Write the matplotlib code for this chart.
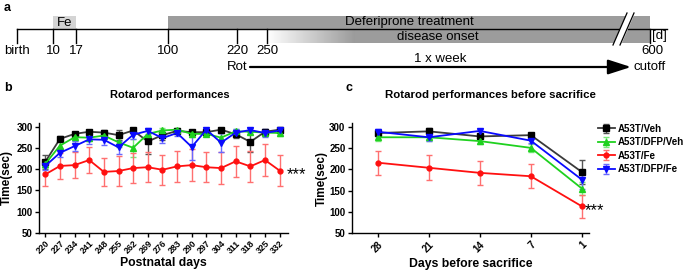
import numpy as np
import matplotlib
matplotlib.use('Agg')
import matplotlib.pyplot as plt
from matplotlib.patches import Rectangle, Polygon

plt.rcParams['font.family'] = ['Liberation Sans', 'DejaVu Sans']

# ---- panel a: timeline (schematic) ----
tl_labels = ['birth', '10', '17', '100', '220', '250', '600']
tl_pos = [17, 53, 76, 168, 237, 267, 650]   # pixel position of each mark on the timeline

# ---- panel b: weekly rotarod, postnatal days ----
days = [220, 227, 234, 241, 248, 255, 262, 269, 276, 283, 290, 297, 304, 311, 318, 325, 332]
veh_b = [218, 272, 284, 289, 287, 281, 292, 266, 281, 291, 288, 288, 294, 283, 265, 289, 294]
veh_b_err = [17, 6, 5, 4, 5, 12, 5, 30, 12, 4, 6, 5, 4, 8, 25, 6, 4]
dfpveh_b = [213, 256, 276, 275, 280, 264, 251, 284, 292, 294, 284, 284, 275, 290, 289, 287, 286]
dfpveh_b_err = [10, 10, 8, 8, 8, 12, 22, 8, 5, 4, 8, 6, 10, 5, 5, 6, 6]
fe_b = [188, 208, 210, 222, 194, 196, 203, 205, 199, 207, 210, 205, 203, 219, 207, 222, 197]
fe_b_err = [28, 30, 30, 31, 34, 35, 35, 36, 36, 36, 37, 36, 37, 36, 37, 37, 37]
dfpfe_b = [208, 239, 255, 271, 270, 252, 282, 291, 274, 286, 253, 294, 263, 287, 293, 286, 292]
dfpfe_b_err = [10, 10, 12, 12, 13, 15, 10, 8, 12, 6, 30, 5, 22, 8, 5, 10, 5]

# ---- panel c: days before sacrifice ----
days_before = ['28', '21', '14', '7', '1']
veh_c = [286, 290, 278, 281, 194]
veh_c_err = [7, 7, 5, 6, 28]
dfpveh_c = [276, 276, 267, 251, 155]
dfpveh_c_err = [9, 8, 8, 9, 15]
fe_c = [216, 204, 192, 184, 113]
fe_c_err = [28, 30, 29, 28, 27]
dfpfe_c = [289, 276, 291, 268, 176]
dfpfe_c_err = [6, 9, 4, 6, 22]

series_names = ['A53T/Veh', 'A53T/DFP/Veh', 'A53T/Fe', 'A53T/DFP/Fe']
colors = ['#000000', '#1fd11f', '#ff1010', '#0a0aff']
line_colors = ['#3a3a3a', '#1fd11f', '#ff1010', '#0a0aff']
err_colors = ['#555555', '#7ae87a', '#ff7070', '#6a6aff']
markers = ['s', '^', 'o', 'v']
msizes = [4.5, 4.5, 3.5, 4.5]

W, H = 685, 270
fig = plt.figure(figsize=(W / 100, H / 100), dpi=100)


def fx(x):
    return x / W


def fy(y):
    return 1 - y / H


# ---------------- panel a ----------------
axa = fig.add_axes([0, 0, 1, 1])
axa.set_xlim(0, W)
axa.set_ylim(H, 0)
axa.axis('off')

fs_a = 9.5
line_y = 29
bar_top = 16
bar_bot = 43
gray = '#9c9c9c'
# Fe box
axa.add_patch(Rectangle((tl_pos[1], bar_top), tl_pos[2] - tl_pos[1], line_y - bar_top,
                        facecolor='#d4d4d4', edgecolor='none', zorder=1))
axa.text((tl_pos[1] + tl_pos[2]) / 2, 22.5, 'Fe', ha='center', va='center', fontsize=fs_a)
# Deferiprone treatment bar
axa.add_patch(Rectangle((tl_pos[3], bar_top), tl_pos[6] - tl_pos[3], line_y - bar_top,
                        facecolor=gray, edgecolor='none', zorder=1))
axa.text(409, 22.5, 'Deferiprone treatment', ha='center', va='center', fontsize=fs_a)
# disease onset bar with gradient
grad_end = 355
grad = np.linspace(1.0, 0.61, 100).reshape(1, -1)
axa.imshow(np.dstack([grad, grad, grad]), extent=(tl_pos[5], grad_end, bar_bot, line_y),
           aspect='auto', zorder=1, interpolation='bilinear')
axa.add_patch(Rectangle((grad_end, line_y), tl_pos[6] - grad_end, bar_bot - line_y,
                        facecolor=gray, edgecolor='none', zorder=1))
axa.text(438, 36.5, 'disease onset', ha='center', va='center', fontsize=fs_a)
axa.set_xlim(0, W)
axa.set_ylim(H, 0)

# timeline and ticks
axa.plot([tl_pos[0], 667], [line_y, line_y], color='black', lw=1.0, zorder=3)
for p, lab in zip(tl_pos, tl_labels):
    axa.plot([p, p], [line_y, bar_bot], color='black', lw=1.0, zorder=3)
    axa.text(p + (2 if lab == '600' else 0), 51.5, lab, ha='center', va='center', fontsize=fs_a)
axa.text(659, 36.5, '[d]', ha='center', va='center', fontsize=fs_a)

# break marks
brk = Polygon([(613, 45), (627, 13), (635, 13), (621, 45)], closed=True,
              facecolor='white', edgecolor='none', zorder=4)
axa.add_patch(brk)
axa.plot([613, 627], [45, 13], color='black', lw=0.9, zorder=5)
axa.plot([620, 634], [45, 13], color='black', lw=0.9, zorder=5)

# rotarod arrow
axa.text(tl_pos[4], 67, 'Rot', ha='center', va='center', fontsize=fs_a)
axa.annotate('', xy=(631, 67), xytext=(250, 67),
             arrowprops=dict(arrowstyle='-|>,head_length=1.4,head_width=0.45',
                             color='black', lw=1.6, shrinkA=0, shrinkB=0))
axa.text(440, 59.5, '1 x week', ha='center', va='center', fontsize=fs_a)
axa.text(650, 67.5, 'cutoff', ha='center', va='center', fontsize=fs_a)
fig.text(fx(4), fy(8), 'a', fontsize=9, fontweight='bold', ha='left', va='center')


def style_axis(ax):
    for s in ['top', 'right']:
        ax.spines[s].set_visible(False)
    for s in ['left', 'bottom']:
        ax.spines[s].set_linewidth(1.0)
    ax.set_ylim(50, 309)
    ax.set_yticks([50, 100, 150, 200, 250, 300])
    ax.tick_params(axis='both', direction='out', length=3, width=1.0, pad=1.5)
    for t in ax.get_yticklabels():
        t.set_fontsize(7)
        t.set_fontweight('bold')


def draw_series(ax, x, ys, errs):
    for y, e, c, lc, ec, m, ms, name in zip(ys, errs, colors, line_colors, err_colors,
                                            markers, msizes, series_names):
        ax.errorbar(x, y, yerr=e, color=lc, ecolor=ec, elinewidth=1.0, capsize=2,
                    capthick=1.0, marker=m, markersize=ms, markerfacecolor=c,
                    markeredgecolor=c, lw=1.3, label=name)


def add_stars(ax, x, y):
    ax.annotate('***', xy=(x, y), xytext=(0, -3), textcoords='offset points',
                fontsize=12, va='center', ha='left', annotation_clip=False)


# ---------------- panel b ----------------
axb = fig.add_axes([fx(39), fy(232.7), fx(288 - 39), (232.7 - 123.3) / H])
draw_series(axb, days, [veh_b, dfpveh_b, fe_b, dfpfe_b],
            [veh_b_err, dfpveh_b_err, fe_b_err, dfpfe_b_err])
style_axis(axb)
axb.set_xlim(217, 336)
axb.set_xticks(days)
axb.set_xticklabels([str(d) for d in days], rotation=45, fontsize=6.3, fontweight='bold',
                    ha='right', va='top', rotation_mode='anchor')
axb.set_xlabel('Postnatal days', fontsize=8.8, fontweight='bold', labelpad=1)
axb.set_ylabel('Time(sec)', fontsize=8.5, fontweight='bold')
axb.yaxis.set_label_coords(-0.105, 0.5)
add_stars(axb, 335.5, fe_b[-1])
fig.text(fx(170), fy(95), 'Rotarod performances', fontsize=8, fontweight='bold',
         ha='center', va='center')
fig.text(fx(4), fy(88), 'b', fontsize=9, fontweight='bold', ha='left', va='center')

# ---------------- panel c ----------------
axc = fig.add_axes([fx(351.7), fy(233), fx(589 - 351.7), (233 - 123.3) / H])
xc = np.arange(len(days_before))
draw_series(axc, xc, [veh_c, dfpveh_c, fe_c, dfpfe_c],
            [veh_c_err, dfpveh_c_err, fe_c_err, dfpfe_c_err])
style_axis(axc)
axc.set_xlim(-0.51, 4.14)
axc.set_xticks(xc)
axc.set_xticklabels(days_before, rotation=45, fontsize=7, fontweight='bold',
                    ha='right', va='top', rotation_mode='anchor')
axc.set_xlabel('Days before sacrifice', fontsize=8.8, fontweight='bold', labelpad=3)
axc.set_ylabel('Time(sec)', fontsize=8.5, fontweight='bold')
axc.yaxis.set_label_coords(-0.1, 0.5)
add_stars(axc, 4.05, fe_c[-1])
fig.text(fx(490), fy(95), 'Rotarod performances before sacrifice', fontsize=8.2,
         fontweight='bold', ha='center', va='center')
fig.text(fx(345), fy(88), 'c', fontsize=9, fontweight='bold', ha='left', va='center')
leg = axc.legend(loc='upper left', bbox_to_anchor=(1.02, 1.03), frameon=False,
                 prop={'size': 7, 'weight': 'bold'}, handlelength=1.8, handletextpad=0.3,
                 labelspacing=0.35, borderaxespad=0)

fig.savefig('out.png', dpi=100)
